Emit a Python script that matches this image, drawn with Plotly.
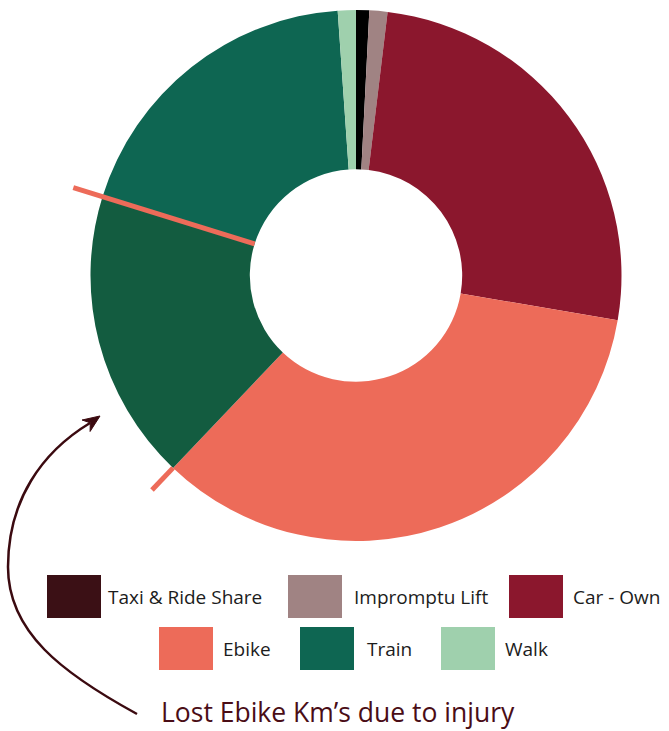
import math
import plotly.graph_objects as go

# Share of travel by mode (percent of km), clockwise from 12 o'clock
labels = ["Taxi & Ride Share", "Impromptu Lift", "Car - Own", "Ebike",
          "Lost Ebike Km’s due to injury", "Train", "Walk"]
values = [0.8, 1.1, 25.8, 34.4, 17.7, 19.1, 1.1]
slice_colors = ["#000000", "#a08383", "#8b172d", "#ed6b59",
                "#135c40", "#0e6652", "#9fd0ad"]

legend_labels = ["Taxi & Ride Share", "Impromptu Lift", "Car - Own",
                 "Ebike", "Train", "Walk"]
legend_colors = ["#3b1015", "#a08383", "#8b172d", "#ed6b59", "#0e6652", "#9fd0ad"]

callout_text = "Lost Ebike Km’s due to injury"

W, H = 669, 731
CX, CY, R = 356.0, 275.5, 265.5
HOLE = 0.4
ACCENT = "#ed6b59"
DARK = "#3b0a10"


def px(x, y):
    return x / W, 1 - y / H


fig = go.Figure()
fig.add_trace(go.Pie(
    labels=labels, values=values, sort=False, direction="clockwise",
    rotation=0, hole=HOLE, textinfo="none", hoverinfo="label+percent",
    marker=dict(colors=slice_colors, line=dict(width=0)),
    showlegend=False,
    domain=dict(x=[(CX - R) / W, (CX + R) / W], y=[1 - (CY + R) / H, 1 - (CY - R) / H]),
))

# Boundaries of the lost-km wedge, taken from the cumulative shares
total = sum(values)
lost_i = labels.index(callout_text)
start_deg = sum(values[:lost_i]) / total * 360
end_deg = sum(values[:lost_i + 1]) / total * 360


def polar(deg, r):
    a = math.radians(deg)
    return CX + r * math.sin(a), CY - r * math.cos(a)


shapes = []
for deg, r0 in [(end_deg, R * HOLE), (start_deg, R)]:
    x0, y0 = polar(deg, r0)
    x1, y1 = polar(deg, R * 1.115)
    a0, b0 = px(x0, y0)
    a1, b1 = px(x1, y1)
    shapes.append(dict(type="line", xref="paper", yref="paper",
                       x0=a0, y0=b0, x1=a1, y1=b1,
                       line=dict(color=ACCENT, width=5)))


def path(points, close=False):
    out = []
    for cmd, pts in points:
        coords = " ".join(f"{px(x, y)[0]:.5f},{px(x, y)[1]:.5f}" for x, y in pts)
        out.append(f"{cmd} {coords}")
    return " ".join(out) + (" Z" if close else "")


# Curved pointer from the caption up to the lost wedge
curve = path([
    ("M", [(137, 714)]),
    ("C", [(62, 673), (8, 632), (8, 567)]),
    ("C", [(8, 500), (42, 452), (90, 423)]),
])
shapes.append(dict(type="path", xref="paper", yref="paper", path=curve,
                   line=dict(color=DARK, width=2.5)))

# Arrowhead at the end of the pointer
tip = (100, 416)
d = (0.819, -0.573)
n = (0.573, 0.819)
L, HW = 17, 7
back = (tip[0] - L * d[0], tip[1] - L * d[1])
notch = (tip[0] - 0.7 * L * d[0], tip[1] - 0.7 * L * d[1])
p1 = (back[0] + HW * n[0], back[1] + HW * n[1])
p2 = (back[0] - HW * n[0], back[1] - HW * n[1])
head = "M " + " L ".join(f"{px(x, y)[0]:.5f},{px(x, y)[1]:.5f}"
                         for x, y in [tip, p1, notch, p2]) + " Z"
shapes.append(dict(type="path", xref="paper", yref="paper", path=head,
                   fillcolor=DARK, line=dict(color=DARK, width=1), layer="above"))

# Legend swatches and labels
legend_pos = [(47, 575), (288, 575), (509, 575), (159, 627), (300, 627), (441, 627)]
text_x = [107, 353, 572, 222, 366, 504]
annotations = []
for (bx, by), tx, lab, col in zip(legend_pos, text_x, legend_labels, legend_colors):
    a0, b0 = px(bx, by)
    a1, b1 = px(bx + 54, by + 43)
    shapes.append(dict(type="rect", xref="paper", yref="paper",
                       x0=a0, y0=b1, x1=a1, y1=b0,
                       fillcolor=col, line=dict(width=0)))
    ax, ay = px(tx - 1, by + 22)
    annotations.append(dict(xref="paper", yref="paper", x=ax, y=ay,
                            xanchor="left", yanchor="middle", showarrow=False,
                            text=lab, font=dict(size=19, color="#1c1c1c",
                                                family="Open Sans")))

ax, ay = px(159, 712)
annotations.append(dict(xref="paper", yref="paper", x=ax, y=ay,
                        xanchor="left", yanchor="middle", showarrow=False,
                        text=callout_text,
                        font=dict(size=26.5, color="#4a0d16", family="Open Sans")))

fig.update_layout(
    width=W, height=H, margin=dict(l=0, r=0, t=0, b=0),
    paper_bgcolor="white", plot_bgcolor="white",
    shapes=shapes, annotations=annotations, showlegend=False,
)

fig.write_html("out.html")
